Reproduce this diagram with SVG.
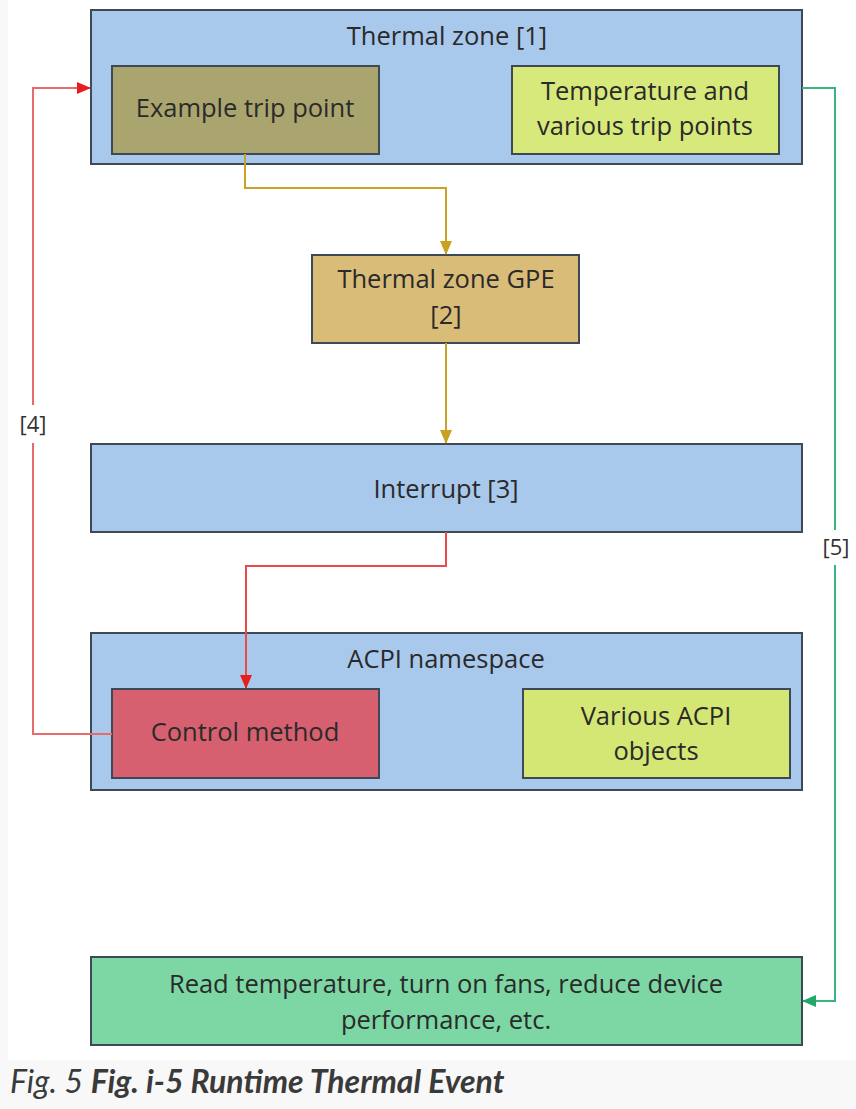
<svg xmlns="http://www.w3.org/2000/svg" width="856" height="1109" viewBox="0 0 856 1109">
<defs>
<style>
.box{stroke:#3e4956;stroke-width:2}
.t{font-family:"Open Sans","Liberation Sans",sans-serif;font-size:25.5px;fill:#2a2a2a;text-anchor:middle}
.lbl{font-family:"Open Sans","Liberation Sans",sans-serif;font-size:22px;fill:#333;text-anchor:middle}
.c{fill:none;stroke-width:2}
.cap{font-family:Lato,"Open Sans",sans-serif;font-size:32px;font-style:italic;fill:#3a3a3a}
</style>
<marker id="ay" markerWidth="14" markerHeight="12" refX="13" refY="6" orient="auto" markerUnits="userSpaceOnUse"><path d="M0,0 L14,6 L0,12 z" fill="#c9a020"/></marker>
<marker id="ar" markerWidth="14" markerHeight="12" refX="13" refY="6" orient="auto" markerUnits="userSpaceOnUse"><path d="M0,0 L14,6 L0,12 z" fill="#e81e1e"/></marker>
<marker id="ag" markerWidth="14" markerHeight="12" refX="13" refY="6" orient="auto" markerUnits="userSpaceOnUse"><path d="M0,0 L14,6 L0,12 z" fill="#22a86a"/></marker>
</defs>
<rect x="0" y="0" width="856" height="1109" fill="#f8f8f8"/>
<rect x="8" y="0" width="848" height="1060" fill="#ffffff"/>

<g id="thermal-zone">
<rect class="box" x="91" y="10" width="711" height="154" fill="#a8c8ec"/>
<text class="t" x="447" y="45">Thermal zone [1]</text>
</g>
<g id="example-trip-point">
<rect class="box" x="112" y="66" width="267" height="88" fill="#aaa56e"/>
<text class="t" x="245" y="117">Example trip point</text>
</g>
<g id="temperature">
<rect class="box" x="512" y="66" width="267" height="88" fill="#d8e97c"/>
<text class="t" x="645" y="100">Temperature and</text>
<text class="t" x="645" y="135">various trip points</text>
</g>
<g id="gpe">
<rect class="box" x="312" y="255" width="267" height="88" fill="#d9bc78"/>
<text class="t" x="446" y="288">Thermal zone GPE</text>
<text class="t" x="446" y="324">[2]</text>
</g>
<g id="interrupt">
<rect class="box" x="91" y="444" width="711" height="88" fill="#a8c8ec"/>
<text class="t" x="446" y="498">Interrupt [3]</text>
</g>
<g id="acpi-namespace">
<rect class="box" x="91" y="633" width="711" height="157" fill="#a8c8ec"/>
<text class="t" x="446" y="668">ACPI namespace</text>
</g>
<g id="control-method">
<rect class="box" x="112" y="689" width="267" height="89" fill="#d6606f"/>
<text class="t" x="245" y="741">Control method</text>
</g>
<g id="various-acpi">
<rect class="box" x="523" y="689" width="267" height="89" fill="#d4e674"/>
<text class="t" x="656" y="725">Various ACPI</text>
<text class="t" x="656" y="760">objects</text>
</g>
<g id="actions">
<rect class="box" x="91" y="957" width="711" height="88" fill="#7dd7a5"/>
<text class="t" x="446" y="993">Read temperature, turn on fans, reduce device</text>
<text class="t" x="446" y="1029">performance, etc.</text>
</g>

<g id="connectors">
<path class="c" stroke="#c9a227" d="M245,154 V188 H446 V254" marker-end="url(#ay)"/>
<path class="c" stroke="#c9a227" d="M446,343 V443" marker-end="url(#ay)"/>
<path class="c" stroke="#ea4a4a" d="M446,532 V566 H246 V688" marker-end="url(#ar)"/>
<path class="c" stroke="#e86a6a" d="M112,734 H33 V443"/>
<path class="c" stroke="#e86a6a" d="M33,405 V88 H90" marker-end="url(#ar)"/>
<text class="lbl" x="33" y="432">[4]</text>
<path class="c" stroke="#3bb380" d="M802,88 H835 V530"/>
<path class="c" stroke="#3bb380" d="M835,565 V1001 H803" marker-end="url(#ag)"/>
<text class="lbl" x="836" y="555">[5]</text>
</g>

<text class="cap" x="10" y="1093">Fig. 5 <tspan font-weight="bold">Fig. i-5 Runtime Thermal Event</tspan></text>
</svg>
